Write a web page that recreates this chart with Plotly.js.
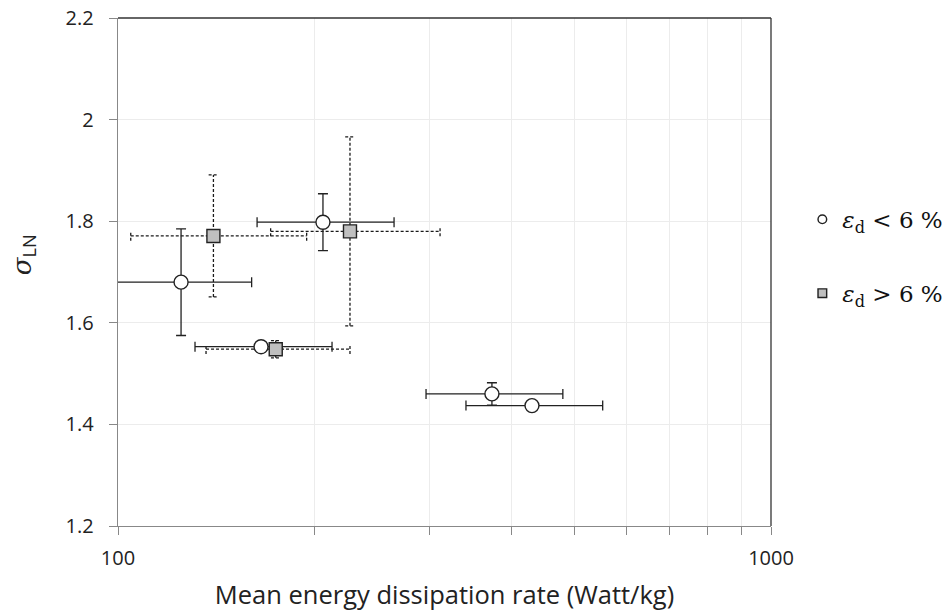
<!DOCTYPE html>
<html>
<head>
<meta charset="utf-8">
<script src="https://cdn.plot.ly/plotly-3.0.1.min.js"></script>
<style>html,body{margin:0;padding:0;background:#fff;}#chart{width:944px;height:611px;}</style>
</head>
<body>
<div id="chart"></div>
<script>
// ---- data ----
// Series 1: epsilon_d < 6 %
var lowX       = [124.9, 165.6, 206.0, 373.8, 430.5];
var lowY       = [1.680, 1.553, 1.798, 1.460, 1.437];
var lowXMinus  = [27.0, 34.4, 42.7, 77.5, 89.4];
var lowXPlus   = [35.3, 47.1, 58.7, 106.2, 121.9];
var lowYErr    = [0.105, 0.010, 0.056, 0.022, 0.008];

// Series 2: epsilon_d > 6 %
var highX      = [140.0, 226.6, 174.4];
var highY      = [1.771, 1.780, 1.548];
var highXMinus = [35.4, 55.3, 38.0];
var highXPlus  = [54.5, 84.7, 52.2];
var highYErr   = [0.120, 0.186, 0.017];

var seriesNames = ['<i>ε</i><sub>d</sub> &lt; 6 %', '<i>ε</i><sub>d</sub> &gt; 6 %'];
var xTitle = 'Mean energy dissipation rate (Watt/kg)';
var yTitle = '<i>σ</i><sub><span style="font-family:Open Sans">LN</span></sub>';
var xTickVals = [100, 1000];
var xTickText = ['100', '1000'];
var xMinorVals = [200, 300, 400, 500, 600, 700, 800, 900];
var yTickVals = [1.2, 1.4, 1.6, 1.8, 2.0, 2.2];
var yTickText = ['1.2', '1.4', '1.6', '1.8', '2', '2.2'];

// ---- dashed error bars for series 2 (built from the data arrays) ----
var capY = 0.0095;      // cap half-height in y units
var capXf = 1.017;      // cap half-width factor on log x axis
var ex = [], ey = [];
for (var i = 0; i < highX.length; i++) {
  var xl = highX[i] - highXMinus[i], xh = highX[i] + highXPlus[i];
  var yl = highY[i] - highYErr[i], yh = highY[i] + highYErr[i];
  ex.push(xl, xh, null); ey.push(highY[i], highY[i], null);
  ex.push(xl, xl, null); ey.push(highY[i] - capY, highY[i] + capY, null);
  ex.push(xh, xh, null); ey.push(highY[i] - capY, highY[i] + capY, null);
  ex.push(highX[i], highX[i], null); ey.push(yl, yh, null);
  ex.push(highX[i] / capXf, highX[i] * capXf, null); ey.push(yl, yl, null);
  ex.push(highX[i] / capXf, highX[i] * capXf, null); ey.push(yh, yh, null);
}

var traces = [
  {
    x: ex, y: ey, type: 'scatter', mode: 'lines',
    line: {color: '#1a1a1a', width: 1.3, dash: '3px,2px'},
    showlegend: false, hoverinfo: 'skip'
  },
  {
    x: lowX, y: lowY, type: 'scatter', mode: 'markers',
    name: seriesNames[0], legendgroup: 'a',
    marker: {symbol: 'circle', size: 14, color: '#ffffff', line: {color: '#222222', width: 1.4}},
    error_x: {type: 'data', symmetric: false, array: lowXPlus, arrayminus: lowXMinus,
              color: '#222222', thickness: 1.3, width: 5},
    error_y: {type: 'data', array: lowYErr, color: '#222222', thickness: 1.3, width: 5}
  },
  {
    x: highX, y: highY, type: 'scatter', mode: 'markers',
    name: seriesNames[1], legendgroup: 'b',
    marker: {symbol: 'square', size: 13, color: '#bfbfbf', line: {color: '#222222', width: 1.4}}
  }
];

var layout = {
  width: 944, height: 611,
  margin: {l: 118, r: 173, t: 18, b: 85, autoexpand: false},
  paper_bgcolor: '#ffffff', plot_bgcolor: '#ffffff',
  font: {family: 'Open Sans, sans-serif', color: '#222222'},
  showlegend: true,
  legend: {
    x: 1.048, xanchor: 'left', y: 0.646, yanchor: 'top',
    traceorder: 'grouped', tracegroupgap: 41,
    font: {family: 'DejaVu Serif, serif', size: 23, color: '#111111'},
    bgcolor: 'rgba(0,0,0,0)', itemsizing: 'constant'
  },
  xaxis: {
    type: 'log', range: [2, 3],
    tickmode: 'array', tickvals: xTickVals, ticktext: xTickText,
    ticks: 'outside', ticklen: 8, tickcolor: '#888888', tickwidth: 1,
    showline: true, linecolor: '#888888', linewidth: 1.3,
    showgrid: true, gridcolor: '#ececec', gridwidth: 1,
    minor: {tickmode: 'array', tickvals: xMinorVals, ticks: 'outside', ticklen: 8,
            tickcolor: '#888888', tickwidth: 1, showgrid: true, gridcolor: '#ececec', gridwidth: 1},
    zeroline: false,
    tickfont: {size: 20, color: '#222222'},
    ticklabelstandoff: 6,
    title: {text: xTitle, font: {size: 25.5, color: '#222222'}, standoff: 20}
  },
  yaxis: {
    range: [1.2, 2.2],
    tickmode: 'array', tickvals: yTickVals, ticktext: yTickText,
    ticks: 'outside', ticklen: 8, tickcolor: '#888888', tickwidth: 1,
    showline: true, linecolor: '#888888', linewidth: 1.3,
    showgrid: true, gridcolor: '#ececec', gridwidth: 1,
    zeroline: false,
    tickfont: {size: 20, color: '#222222'},
    ticklabelstandoff: 11
  },
  annotations: [
    {text: yTitle, xref: 'paper', yref: 'paper', x: -0.144, y: 0.535,
     xanchor: 'center', yanchor: 'middle', textangle: -90, showarrow: false,
     font: {family: 'DejaVu Serif, serif', size: 26, color: '#222222'}}
  ],
  shapes: [
    {type: 'line', xref: 'paper', yref: 'paper', x0: 0, x1: 1, y0: 1, y1: 1, line: {color: '#333333', width: 1.3}},
    {type: 'line', xref: 'paper', yref: 'paper', x0: 1, x1: 1, y0: 0, y1: 1, line: {color: '#333333', width: 1.3}}
  ]
};

Plotly.newPlot('chart', traces, layout, {displayModeBar: false, staticPlot: true}).then(function () {
  // shrink legend symbols to match the reference legend
  var pts = document.querySelectorAll('.legend .legendpoints path.scatterpts');
  pts.forEach(function (p) {
    var t = p.getAttribute('transform') || '';
    p.setAttribute('transform', t + ' scale(0.72)');
  });
});
</script>
</body>
</html>
